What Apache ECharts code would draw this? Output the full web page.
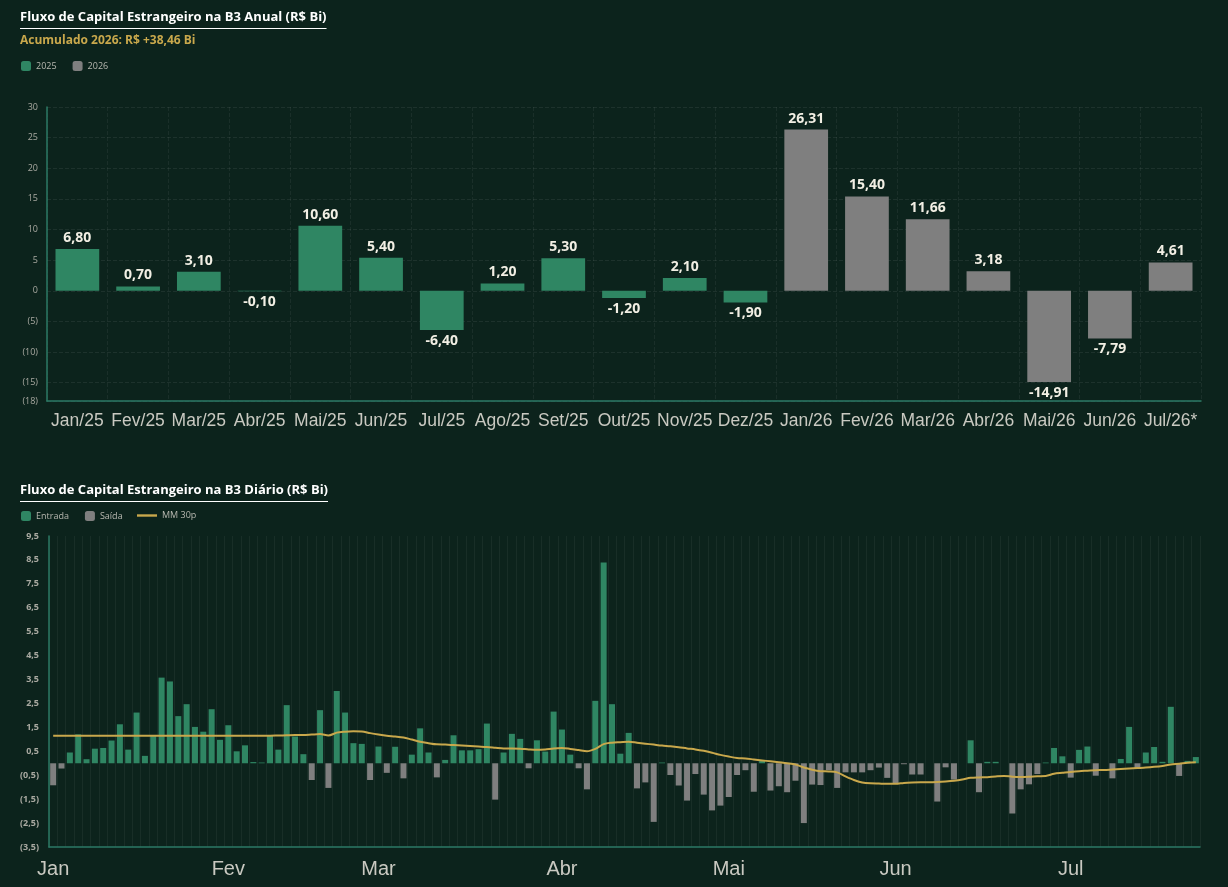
<!DOCTYPE html>
<html>
<head>
<meta charset="utf-8">
<script src="https://cdn.jsdelivr.net/npm/echarts@6/dist/echarts.min.js"></script>
<style>
  html, body { margin: 0; padding: 0; background: #0c231c; }
  #chart { width: 1228px; height: 887px; }
</style>
</head>
<body>
<div id="chart"></div>
<script>
// Mensal (R$ Bi)
const categoriasMensais = ['Jan/25','Fev/25','Mar/25','Abr/25','Mai/25','Jun/25','Jul/25','Ago/25','Set/25','Out/25','Nov/25','Dez/25',
  'Jan/26','Fev/26','Mar/26','Abr/26','Mai/26','Jun/26','Jul/26*'];
const fluxo2025 = [6.80, 0.70, 3.10, -0.10, 10.60, 5.40, -6.40, 1.20, 5.30, -1.20, 2.10, -1.90];
const fluxo2026 = [26.31, 15.40, 11.66, 3.18, -14.91, -7.79, 4.61];
const ticksMensais = [-18, -15, -10, -5, 0, 5, 10, 15, 20, 25, 30];

// Diário 2026 (R$ Bi) - dias de pregão por mês
const meses = ['Jan', 'Fev', 'Mar', 'Abr', 'Mai', 'Jun', 'Jul'];
const diasJan = [2,5,6,7,8,9,12,13,14,15,16,19,20,21,22,23,26,27,28,29,30];
const diasFev = [2,3,4,5,6,9,10,11,12,13,18,19,20,23,24,25,26,27];
const diasMar = [2,3,4,5,6,9,10,11,12,13,16,17,18,19,20,23,24,25,26,27,30,31];
const diasAbr = [1,2,6,7,8,9,10,13,14,15,16,17,20,22,23,24,27,28,29,30];
const diasMai = [4,5,6,7,8,11,12,13,14,15,18,19,20,21,22,25,26,27,28,29];
const diasJun = [1,2,3,5,8,9,10,11,12,15,16,17,18,19,22,23,24,25,26,29,30];
const diasJul = [1,2,3,6,7,8,9,10,13,14,15,16,17,20,21,22];

const fluxoDiario = [
  // Jan
  -0.92, -0.22, 0.45, 1.21, 0.17, 0.61, 0.64, 0.95, 1.63, 0.57, 2.12, 0.31, 1.14, 3.58, 3.42, 1.97, 2.47, 1.52, 1.32, 2.26, 0.98,
  // Fev
  1.59, 0.50, 0.75, 0.05, 0.03, 1.15, 0.57, 2.43, 1.12, 0.38, -0.70, 2.22, -1.03, 3.02, 2.12, 0.84, 0.81, -0.70,
  // Mar
  0.70, -0.40, 0.69, -0.63, 0.36, 1.46, 0.45, -0.59, 0.14, 1.17, 0.54, 0.54, 0.59, 1.66, -1.52, 0.45, 1.23, 1.02, -0.21, 0.96, 0.49, 2.16,
  // Abr
  1.41, 0.36, -0.21, -1.09, 2.61, 8.39, 2.47, 0.40, 1.27, -1.05, -0.80, -2.45, 0.03, -0.49, -0.93, -1.56, -0.45, -1.31, -1.97, -1.77,
  // Mai
  -1.41, -0.49, -0.29, -1.19, 0.11, -1.14, -0.96, -1.21, -0.73, -2.50, -0.89, -0.91, -0.29, -1.03, -0.38, -0.38, -0.38, -0.29, -0.18, -0.61,
  // Jun
  -0.85, -0.04, -0.47, -0.47, 0, -1.60, -0.17, -0.68, 0, 0.96, -1.21, 0.06, 0.06, 0, -2.10, -1.09, -0.88, -0.45, 0.03, 0.64, 0.29,
  // Jul
  -0.60, 0.56, 0.70, -0.52, 0, -0.63, 0.18, 1.52, -0.24, 0.45, 0.68, 0.06, 2.36, -0.53, 0.10, 0.26
];

const mediaMovel30 = [
  // Jan
  1.15, 1.15, 1.15, 1.15, 1.15, 1.15, 1.15, 1.15, 1.15, 1.15, 1.15, 1.15, 1.15, 1.15, 1.15, 1.15, 1.15, 1.15, 1.15, 1.15, 1.15,
  // Fev
  1.15, 1.15, 1.15, 1.15, 1.15, 1.15, 1.16, 1.17, 1.18, 1.18, 1.20, 1.22, 1.16, 1.28, 1.32, 1.34, 1.33, 1.26,
  // Mar
  1.20, 1.15, 1.12, 1.08, 0.99, 0.90, 0.84, 0.79, 0.78, 0.76, 0.74, 0.72, 0.70, 0.68, 0.65, 0.62, 0.62, 0.61, 0.58, 0.56, 0.58, 0.62,
  // Abr
  0.64, 0.60, 0.55, 0.50, 0.60, 0.80, 0.86, 0.88, 0.90, 0.86, 0.82, 0.78, 0.74, 0.71, 0.67, 0.62, 0.58, 0.52, 0.44, 0.35,
  // Mai
  0.28, 0.22, 0.20, 0.16, 0.12, 0.08, 0.04, 0.00, -0.05, -0.18, -0.27, -0.33, -0.34, -0.38, -0.55, -0.70, -0.80, -0.84, -0.85, -0.86,
  // Jun
  -0.86, -0.82, -0.80, -0.79, -0.79, -0.78, -0.76, -0.73, -0.68, -0.61, -0.59, -0.58, -0.55, -0.53, -0.56, -0.57, -0.56, -0.54, -0.53, -0.44, -0.40,
  // Jul
  -0.36, -0.33, -0.31, -0.29, -0.28, -0.26, -0.24, -0.22, -0.20, -0.18, -0.15, -0.11, -0.05, -0.02, 0.02, 0.04
];

const titulo1 = 'Fluxo de Capital Estrangeiro na B3 Anual (R$ Bi)';
const subtitulo1 = 'Acumulado 2026: R$ +38,46 Bi';
const titulo2 = 'Fluxo de Capital Estrangeiro na B3 Diário (R$ Bi)';

const VERDE = '#2f8663';
const CINZA = '#7f7f7f';
const OURO = '#c9a84c';
const EIXO = '#2b7a65';
const TEXTO = '#c9c9c1';
const FONTE = '"Open Sans", "Noto Sans", sans-serif';

// build the daily categories, remembering where each month starts
const diasPorMes = [diasJan, diasFev, diasMar, diasAbr, diasMai, diasJun, diasJul];
const categoriasDiarias = [];
const inicioMes = {};
diasPorMes.forEach((dias, m) => {
  inicioMes[categoriasDiarias.length] = meses[m];
  dias.forEach(d => categoriasDiarias.push(String(d).padStart(2, '0') + '/' + String(m + 1).padStart(2, '0')));
});

const fmtBR = (v, casas) => v.toFixed(casas).replace('.', ',');
const fmtEixo = (v, casas) => v < 0 ? '(' + fmtBR(-v, casas) + ')' : fmtBR(v, casas);

// monthly bars: one series per year, padded with null so they share the stack
const barra = (v) => v === null ? null : {
  value: v,
  label: { position: v < 0 ? 'bottom' : 'top' }
};
const serie2025 = categoriasMensais.map((_, i) => i < fluxo2025.length ? barra(fluxo2025[i]) : null);
const serie2026 = categoriasMensais.map((_, i) => i >= fluxo2025.length ? barra(fluxo2026[i - fluxo2025.length]) : null);

const entrada = fluxoDiario.map(v => v >= 0 ? v : null);
const saida = fluxoDiario.map(v => v < 0 ? v : null);

// underline width for the titles
const ctx = document.createElement('canvas').getContext('2d');
const largura = (txt, font) => { ctx.font = font; return ctx.measureText(txt).width; };
const fonteTitulo = 'bold 13px "Open Sans"';

const tituloGrafico = (txt, top) => ({
  type: 'group', left: 20, top: top,
  children: [
    { type: 'text', x: 0, y: 0, style: { text: txt, fill: '#ffffff', font: fonteTitulo } },
    { type: 'rect', shape: { x: 0, y: 17, width: largura(txt, fonteTitulo), height: 1 }, style: { fill: '#ffffff' } }
  ]
});

const labelValor = {
  show: true,
  color: '#f2efe4',
  fontFamily: FONTE,
  fontWeight: 'bold',
  fontSize: 14,
  distance: 4,
  formatter: p => fmtBR(p.value, 2)
};

const chart = echarts.init(document.getElementById('chart'));

chart.setOption({
  backgroundColor: '#0c231c',
  animation: false,
  textStyle: { fontFamily: FONTE },
  graphic: [
    tituloGrafico(titulo1, 11),
    { type: 'text', left: 20, top: 35, style: { text: subtitulo1, fill: OURO, font: 'bold 12px "Open Sans"' } },
    tituloGrafico(titulo2, 484)
  ],
  legend: [
    {
      left: 16, top: 56, itemWidth: 10, itemHeight: 10, itemGap: 16,
      icon: 'roundRect',
      data: ['2025', '2026'],
      textStyle: { color: '#b8b8b0', fontSize: 9 }
    },
    {
      left: 16, top: 506, itemWidth: 10, itemHeight: 10, itemGap: 16,
      icon: 'roundRect',
      data: ['Entrada', 'Saída'],
      textStyle: { color: '#b8b8b0', fontSize: 9 }
    },
    {
      left: 132, top: 506, itemWidth: 20, itemHeight: 10,
      data: [{ name: 'MM 30p', icon: 'path://M0,3.8L20,3.8L20,6.2L0,6.2Z' }],
      textStyle: { color: '#b8b8b0', fontSize: 9 }
    }
  ],
  grid: [
    { left: 47, right: 27, top: 107, bottom: 486 },
    { left: 49, right: 28, top: 536, bottom: 40 }
  ],
  xAxis: [
    {
      type: 'category', gridIndex: 0, data: categoriasMensais,
      axisLine: { onZero: false, lineStyle: { color: EIXO, width: 1.5 } },
      axisTick: { show: false },
      axisLabel: { interval: 0, color: TEXTO, fontSize: 17.5, fontFamily: '"Liberation Sans", Arial, sans-serif', margin: 11 },
      splitLine: { show: true, interval: 0, lineStyle: { color: 'rgba(255,255,255,0.06)', type: 'dashed' } }
    },
    {
      type: 'category', gridIndex: 1, data: categoriasDiarias,
      axisLine: { onZero: false, lineStyle: { color: EIXO, width: 1.5 } },
      axisTick: { show: false },
      axisLabel: {
        color: TEXTO, fontSize: 20, fontFamily: '"Liberation Sans", Arial, sans-serif', margin: 12,
        interval: (i) => inicioMes[i] !== undefined,
        formatter: (v, i) => inicioMes[i] || ''
      },
      splitLine: { show: true, interval: 0, lineStyle: { color: 'rgba(255,255,255,0.05)' } }
    }
  ],
  yAxis: [
    {
      type: 'value', gridIndex: 0, min: -18, max: 30,
      axisLine: { show: true, lineStyle: { color: EIXO, width: 1.5 } },
      axisTick: { show: false, customValues: ticksMensais },
      axisLabel: { color: '#a9a9a1', fontSize: 9, margin: 9, customValues: ticksMensais, formatter: v => fmtEixo(v, 0) },
      splitLine: { show: true, lineStyle: { color: 'rgba(255,255,255,0.07)', type: 'dashed' } }
    },
    {
      type: 'value', gridIndex: 1, min: -3.5, max: 9.5, interval: 1,
      axisLine: { show: true, lineStyle: { color: EIXO, width: 1.5 } },
      axisTick: { show: false },
      axisLabel: { color: '#a9a9a1', fontSize: 9, fontWeight: 'bold', margin: 10, formatter: v => fmtEixo(v, 1) },
      splitLine: { show: false }
    }
  ],
  series: [
    {
      name: '2025', type: 'bar', xAxisIndex: 0, yAxisIndex: 0, stack: 'mes',
      barWidth: '72%', itemStyle: { color: VERDE }, label: labelValor, data: serie2025
    },
    {
      name: '2026', type: 'bar', xAxisIndex: 0, yAxisIndex: 0, stack: 'mes',
      barWidth: '72%', itemStyle: { color: CINZA }, label: labelValor, data: serie2026
    },
    {
      name: 'Entrada', type: 'bar', xAxisIndex: 1, yAxisIndex: 1, stack: 'dia',
      barWidth: '72%', itemStyle: { color: VERDE }, data: entrada
    },
    {
      name: 'Saída', type: 'bar', xAxisIndex: 1, yAxisIndex: 1, stack: 'dia',
      barWidth: '72%', itemStyle: { color: CINZA }, data: saida
    },
    {
      name: 'MM 30p', type: 'line', xAxisIndex: 1, yAxisIndex: 1,
      data: mediaMovel30, symbol: 'none', smooth: 0.3,
      lineStyle: { color: OURO, width: 2 }, itemStyle: { color: OURO }, z: 5
    }
  ]
});
</script>
</body>
</html>
